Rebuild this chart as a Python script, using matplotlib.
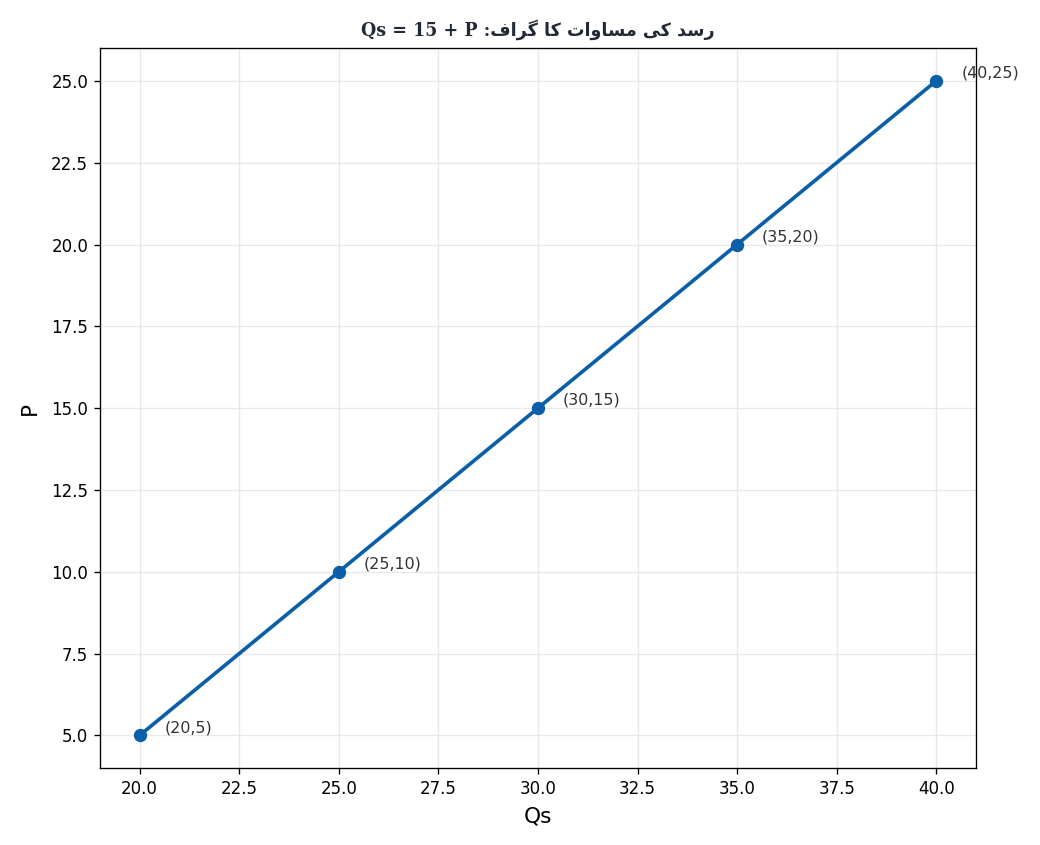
import matplotlib
matplotlib.use("Agg")
import matplotlib.pyplot as plt

# supply schedule: Qs = 15 + P
qs = [20, 25, 30, 35, 40]
price = [5, 10, 15, 20, 25]
point_labels = ["(20,5)", "(25,10)", "(30,15)", "(35,20)", "(40,25)"]

# Urdu title, shaped with presentation forms and laid out left-to-right
# logical text: "رسد کی مساوات کا گراف: Qs = 15 + P"
w_graph = "\uFED1\uFE8D\uFEAE\uFB94"          # گراف
w_ka = "\uFE8E\uFB90"                          # کا
w_equation = "\uFE95\uFE8D\uFEED\uFE8E\uFEB4\uFEE3"  # مساوات
w_ki = "\uFBFD\uFB90"                          # کی
w_supply = "\uFEAA\uFEB3\uFEAD"                # رسد
title = "Qs = 15 + P :" + " ".join([w_graph, w_ka, w_equation, w_ki, w_supply])

line_color = "#0b5fa8"

fig, ax = plt.subplots(figsize=(1040 / 120, 845 / 120), dpi=120)
fig.subplots_adjust(left=0.096, right=0.9385, top=0.943, bottom=0.091)

ax.plot(qs, price, color=line_color, lw=2.2, marker="o", markersize=7)

for x, y, lab in zip(qs, price, point_labels):
    ax.annotate(lab, (x, y), xytext=(15, 2), textcoords="offset points",
                fontsize=9.5, color="#333333")

ax.set_xlabel("Qs", fontsize=13, labelpad=5)
ax.set_ylabel("P", fontsize=13, labelpad=6.5)
ax.set_title(title, fontsize=10.5, fontweight="bold", color="#222a35",
             family=["DejaVu Serif", "DejaVu Sans"], pad=7.5)
ax.grid(True, color="#e3e3e3", alpha=0.8, lw=0.8)

fig.savefig("out.png", dpi=120)
